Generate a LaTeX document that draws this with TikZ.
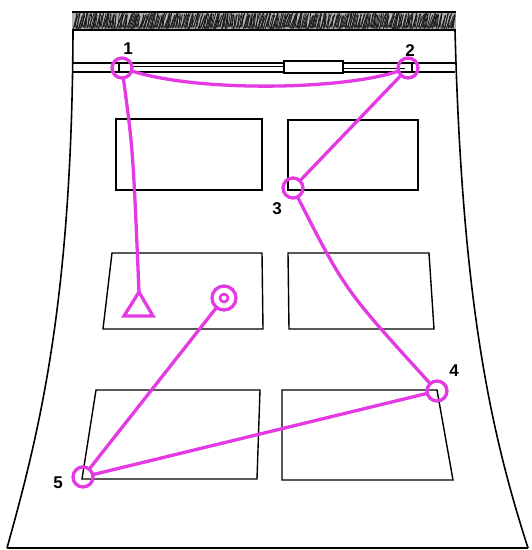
\documentclass[tikz,border=0pt]{standalone}
\usepackage{fontspec}
\setmainfont{Liberation Sans}
\begin{document}
\begin{tikzpicture}[x=1pt,y=-1pt,
  outline/.style={draw=black,line width=1.6pt},
  win/.style={draw=black,line width=1.4pt,line join=miter},
  mag/.style={draw={rgb,255:red,228;green,58;blue,228},line width=3.3pt,line cap=round},
  pt/.style={circle,draw={rgb,255:red,228;green,58;blue,228},line width=3.3pt,minimum size=20pt,inner sep=0pt},
  lbl/.style={font=\bfseries\fontsize{17}{17}\selectfont,text=black,inner sep=0pt}]
\useasboundingbox (0,0) rectangle (532,550);
\fill[white] (0,0) rectangle (532,550);
% hatched top band
\fill[black!30] (72,13) rectangle (456,29);
\pgfmathsetseed{11}
\foreach \i in {0,...,380} {
  \pgfmathsetmacro{\xa}{73+\i}
  \pgfmathsetmacro{\dx}{1+5*rnd}
  \pgfmathsetmacro{\ya}{27+3*rnd}
  \pgfmathsetmacro{\yb}{12+4*rnd}
  \draw[line width=0.8pt,black!90] (\xa,\ya) -- ({min(\xa+\dx,455)},\yb);
}
\draw[outline] (72,12) -- (456,12);
\draw[outline] (72,30) -- (456,30);
% outer sides and bottom
\draw[outline] (73,30) .. controls (72,300) and (40,430) .. (7,548);
\draw[outline] (455,30) .. controls (462,300) and (490,430) .. (528,548);
\draw[outline] (7,548) -- (528,548);
% rail
\draw[line width=1.2pt] (73,63) -- (455,63);
\draw[line width=1.2pt] (73,72) -- (455,72);
\draw[line width=0.6pt] (130,66.5) -- (284,66.5);
\draw[line width=0.6pt] (343,68.5) -- (405,68.5);
\draw[line width=1.1pt,fill=white] (284,61) rectangle (343,73);
\draw[line width=1.1pt] (119,62) -- (119,73);
\draw[line width=1.1pt] (412,62) -- (412,73);
% windows
\draw[win] (116,119) rectangle (262,190);
\draw[win] (288,120) rectangle (418,190);
\draw[win] (112,253) -- (262,253) -- (263,329) -- (103,329) -- cycle;
\draw[win] (288,253) -- (429,253) -- (434,329) -- (289,329) -- cycle;
\draw[win] (96,390) -- (260,390) -- (257,479) -- (82,479) -- cycle;
\draw[win] (282,390) -- (437,390) -- (453,480) -- (282,480) -- cycle;
% points
\node[pt] (p1) at (122,68) {};
\node[pt] (p2) at (408,68) {};
\node[pt] (p3) at (293,188) {};
\node[pt] (p4) at (437,391) {};
\node[pt] (p5) at (83,477) {};
\node[pt,minimum size=24pt] (dc) at (224,298) {};
\node[pt,minimum size=8pt,line width=2.6pt] (dci) at (224,298) {};
\coordinate (tri) at (139,292);
\draw[mag,line join=miter] (tri) -- (153,316) -- (124,316) -- cycle;
% labels
\node[lbl] (l1) at (128,49) {1};
\node[lbl] (l2) at (410,51) {2};
\node[lbl] (l3) at (277,209) {3};
\node[lbl] (l4) at (454,371) {4};
\node[lbl] (l5) at (58,483) {5};
% route
\draw[mag] (p1) .. controls (200,92) and (340,90) .. (p2);
\draw[mag] (p1) .. controls (133,150) .. (tri);
\draw[mag] (p2) -- (p3);
\draw[mag] (p3) .. controls (345,290) .. (p4);
\draw[mag] (p4) -- (p5);
\draw[mag] (dc) -- (p5);
\end{tikzpicture}
\end{document}
